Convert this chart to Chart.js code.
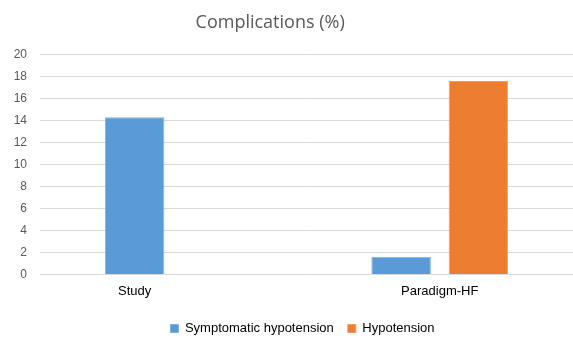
<!DOCTYPE html>
<html>
<head>
<meta charset="utf-8">
<script src="https://cdn.jsdelivr.net/npm/chart.js@4/dist/chart.umd.min.js"></script>
<style>
html,body{margin:0;padding:0;background:#fff;}
#wrap{width:573px;height:341px;position:relative;}
</style>
</head>
<body>
<div id="wrap"><canvas id="c" width="573" height="341"></canvas></div>
<script>
const categories = ["Study", "Paradigm-HF"];
const symptomaticHypotension = [14.3, 1.6];
const hypotension = [0, 17.6];
const yTicks = [0, 2, 4, 6, 8, 10, 12, 14, 16, 18, 20];
const titleText = "Complications (%)";

Chart.defaults.font.family = "'Liberation Sans', Arial, sans-serif";

// Center each category label under its non-zero bars; nudge legend like the reference.
const layoutTweaks = {
  id: 'layoutTweaks',
  afterLayout(chart) {
    const lg = chart.legend;
    if (lg) { lg.left += 16; lg.right += 16; }
  },
  beforeDraw(chart) {
    const xs = chart.scales.x;
    const items = xs.getLabelItems();
    items.forEach((it, i) => {
      const xsPos = [];
      chart.data.datasets.forEach((ds, d) => {
        const v = ds.data[i];
        if (v) xsPos.push(chart.getDatasetMeta(d).data[i].x);
      });
      if (xsPos.length) {
        it.options.translation[0] = (Math.min(...xsPos) + Math.max(...xsPos)) / 2;
      }
    });
  }
};

new Chart(document.getElementById('c'), {
  type: 'bar',
  data: {
    labels: categories,
    datasets: [
      { label: 'Symptomatic hypotension', data: symptomaticHypotension, backgroundColor: '#5B9BD5', borderColor: '#7FB0DE', borderWidth: 1, categoryPercentage: 0.58, barPercentage: 0.77 },
      { label: 'Hypotension', data: hypotension, backgroundColor: '#ED7D31', borderColor: '#F29B62', borderWidth: 1, categoryPercentage: 0.58, barPercentage: 0.77 }
    ]
  },
  plugins: [layoutTweaks],
  options: {
    responsive: false,
    animation: false,
    layout: { padding: { left: 0, right: 0, top: 12, bottom: -4 } },
    plugins: {
      title: {
        display: true,
        text: titleText + "       ",
        color: '#595959',
        font: { family: "'Open Sans', 'Noto Sans', sans-serif", size: 18, weight: 'normal' },
        padding: { top: 0, bottom: 21 }
      },
      legend: {
        position: 'bottom',
        labels: {
          boxWidth: 8, boxHeight: 8, color: '#000', padding: 14,
          font: { size: 13 }
        }
      },
      tooltip: { enabled: false }
    },
    scales: {
      x: {
        grid: { display: false, drawTicks: false },
        border: { display: false },
        ticks: { color: '#000', font: { size: 13 }, padding: 9 }
      },
      y: {
        min: 0, max: 20,
        afterBuildTicks: (ax) => { ax.ticks = yTicks.map(v => ({ value: v })); },
        afterFit: (ax) => { ax.width = 40; },
        grid: { color: '#D9D9D9', lineWidth: 1, drawTicks: false },
        border: { display: false },
        ticks: { color: '#595959', font: { size: 12 }, padding: 13 }
      }
    }
  }
});
</script>
</body>
</html>
